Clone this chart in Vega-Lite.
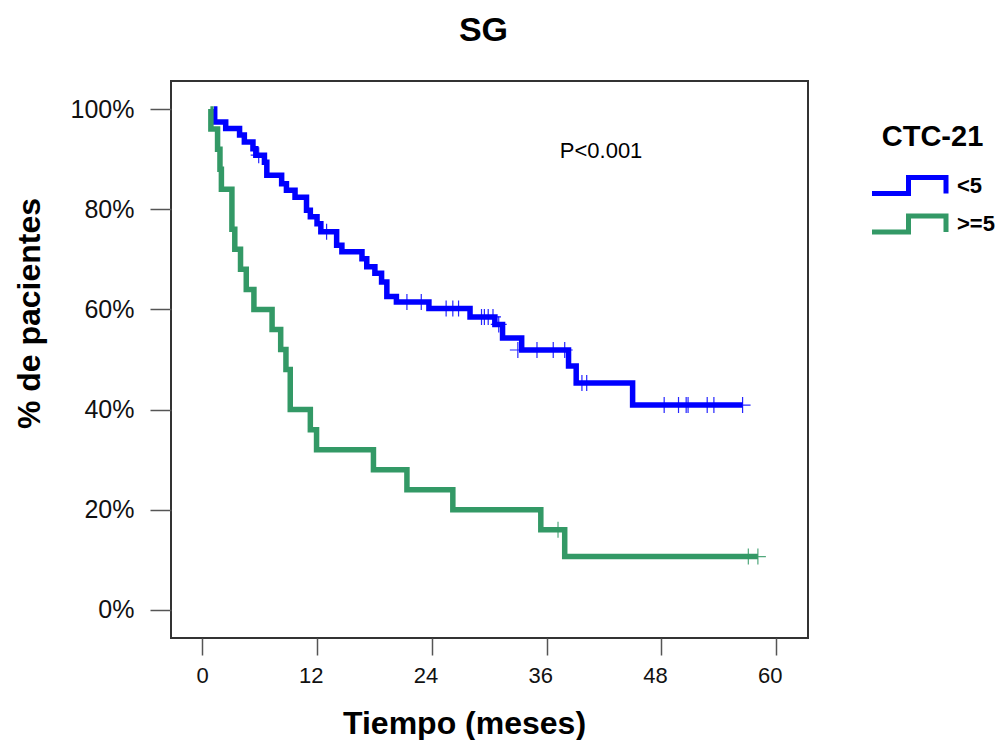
{
  "$schema": "https://vega.github.io/schema/vega-lite/v6.json",
  "width": 637,
  "height": 557,
  "autosize": "none",
  "padding": {"left": 171, "top": 81, "right": 194, "bottom": 102},
  "background": "white",
  "title": {"text": "SG", "fontSize": 34, "font": "Liberation Sans", "fontWeight": "bold", "color": "#000", "offset": 33, "dx": -6},
  "config": {
    "view": {"stroke": "#333", "strokeWidth": 2},
    "font": "Liberation Sans",
    "axis": {"grid": false, "domain": false, "tickColor": "#555", "tickWidth": 1.5, "labelFont": "Liberation Sans", "labelFontSize": 22, "labelColor": "#111", "titleFont": "Liberation Sans", "titleFontSize": 32, "titleFontWeight": "bold", "titleColor": "#000"}
  },
  "datasets": {
    "surv": [
      {"t": 1.2, "s": 100, "g": "<5"}, {"t": 1.3, "s": 97.4, "g": "<5"}, {"t": 2.45, "s": 96.1, "g": "<5"},
      {"t": 3.9, "s": 94.8, "g": "<5"}, {"t": 4.4, "s": 93.4, "g": "<5"}, {"t": 5.3, "s": 92.1, "g": "<5"},
      {"t": 5.6, "s": 90.8, "g": "<5"}, {"t": 6.5, "s": 89.4, "g": "<5"}, {"t": 6.75, "s": 86.8, "g": "<5"},
      {"t": 8.3, "s": 85.1, "g": "<5"}, {"t": 8.8, "s": 83.8, "g": "<5"}, {"t": 9.7, "s": 82.4, "g": "<5"},
      {"t": 10.9, "s": 79.8, "g": "<5"}, {"t": 11.3, "s": 78.5, "g": "<5"}, {"t": 12.0, "s": 77.1, "g": "<5"},
      {"t": 12.4, "s": 75.5, "g": "<5"}, {"t": 14.05, "s": 72.8, "g": "<5"}, {"t": 14.6, "s": 71.5, "g": "<5"},
      {"t": 16.7, "s": 70.1, "g": "<5"}, {"t": 17.2, "s": 68.5, "g": "<5"}, {"t": 18.05, "s": 67.2, "g": "<5"},
      {"t": 18.75, "s": 65.5, "g": "<5"}, {"t": 19.3, "s": 62.6, "g": "<5"}, {"t": 20.3, "s": 61.5, "g": "<5"},
      {"t": 23.7, "s": 60.2, "g": "<5"}, {"t": 28.0, "s": 58.5, "g": "<5"}, {"t": 30.6, "s": 57.0, "g": "<5"},
      {"t": 31.4, "s": 54.3, "g": "<5"}, {"t": 33.4, "s": 51.9, "g": "<5"}, {"t": 38.3, "s": 48.7, "g": "<5"},
      {"t": 39.1, "s": 45.3, "g": "<5"}, {"t": 45.0, "s": 40.9, "g": "<5"}, {"t": 56.5, "s": 40.9, "g": "<5"},
      {"t": 0.85, "s": 100, "g": ">=5"}, {"t": 0.9, "s": 96, "g": ">=5"}, {"t": 1.6, "s": 92, "g": ">=5"},
      {"t": 1.85, "s": 88, "g": ">=5"}, {"t": 2.0, "s": 84, "g": ">=5"}, {"t": 3.1, "s": 76, "g": ">=5"},
      {"t": 3.4, "s": 72, "g": ">=5"}, {"t": 4.0, "s": 68, "g": ">=5"}, {"t": 4.6, "s": 64, "g": ">=5"},
      {"t": 5.4, "s": 60, "g": ">=5"}, {"t": 7.3, "s": 56, "g": ">=5"}, {"t": 8.2, "s": 52, "g": ">=5"},
      {"t": 8.75, "s": 48, "g": ">=5"}, {"t": 9.2, "s": 40, "g": ">=5"}, {"t": 11.3, "s": 36, "g": ">=5"},
      {"t": 11.95, "s": 32, "g": ">=5"}, {"t": 17.9, "s": 28, "g": ">=5"}, {"t": 21.4, "s": 24, "g": ">=5"},
      {"t": 26.2, "s": 20, "g": ">=5"}, {"t": 35.4, "s": 16, "g": ">=5"}, {"t": 37.9, "s": 10.67, "g": ">=5"},
      {"t": 58.1, "s": 10.67, "g": ">=5"}
    ],
    "cens": [
      {"t": 5.9, "s": 90.8, "g": "<5"}, {"t": 13.0, "s": 75.5, "g": "<5"}, {"t": 21.4, "s": 61.5, "g": "<5"},
      {"t": 22.9, "s": 61.5, "g": "<5"}, {"t": 25.5, "s": 60.2, "g": "<5"}, {"t": 26.2, "s": 60.2, "g": "<5"},
      {"t": 26.8, "s": 60.2, "g": "<5"}, {"t": 29.2, "s": 58.5, "g": "<5"}, {"t": 29.5, "s": 58.5, "g": "<5"},
      {"t": 29.9, "s": 58.5, "g": "<5"}, {"t": 30.4, "s": 58.5, "g": "<5"}, {"t": 31.0, "s": 57.0, "g": "<5"},
      {"t": 33.0, "s": 51.9, "g": "<5"}, {"t": 35.0, "s": 51.9, "g": "<5"}, {"t": 36.7, "s": 51.9, "g": "<5"},
      {"t": 37.9, "s": 51.9, "g": "<5"}, {"t": 39.7, "s": 45.3, "g": "<5"}, {"t": 40.2, "s": 45.3, "g": "<5"},
      {"t": 48.3, "s": 40.9, "g": "<5"}, {"t": 49.8, "s": 40.9, "g": "<5"}, {"t": 50.6, "s": 40.9, "g": "<5"},
      {"t": 50.8, "s": 40.9, "g": "<5"}, {"t": 52.8, "s": 40.9, "g": "<5"}, {"t": 53.5, "s": 40.9, "g": "<5"},
      {"t": 56.5, "s": 40.9, "g": "<5"},
      {"t": 37.2, "s": 16, "g": ">=5"}, {"t": 57.1, "s": 10.67, "g": ">=5"}, {"t": 58.1, "s": 10.67, "g": ">=5"}
    ],
    "note": [{"t": 41.7, "s": 91.6, "label": "P<0.001"}]
  },
  "layer": [
    {
      "data": {"name": "surv"},
      "mark": {"type": "line", "interpolate": "step-after", "strokeWidth": 5.5, "strokeJoin": "miter"},
      "encoding": {
        "x": {"field": "t", "type": "quantitative", "scale": {"domain": [-3.27, 63.34], "nice": false, "zero": false},
              "axis": {"values": [0, 12, 24, 36, 48, 60], "tickSize": 17, "labelPadding": 10, "labelAlign": "right", "labelOffset": 6, "title": "Tiempo (meses)", "titlePadding": 22, "titleX": 293}},
        "y": {"field": "s", "type": "quantitative", "scale": {"domain": [-5.59, 105.6], "nice": false, "zero": false},
              "axis": {"values": [0, 20, 40, 60, 80, 100], "labelExpr": "datum.value + '%'", "labelFontSize": 25, "tickSize": 21, "labelPadding": 16, "title": "% de pacientes", "titlePadding": 24, "titleY": 232}},
        "color": {"field": "g", "type": "nominal", "scale": {"domain": ["<5", ">=5"], "range": ["#0000ff", "#339966"]},
                  "legend": {"orient": "none", "legendX": 698.5, "legendY": 42, "padding": 0, "title": "CTC-21", "titleFontSize": 29, "titleFontWeight": "bold", "titleColor": "#000", "titleAnchor": "middle", "titlePadding": 21,
                             "labelFontSize": 22, "labelFontWeight": "bold", "labelColor": "#000", "labelOffset": 62.5, "rowPadding": 1.5,
                             "symbolType": "M-1,0.8H2.65V-0.8H6.4V0.8", "symbolSize": 400, "symbolStrokeWidth": 5, "symbolFillColor": "transparent"}}
      }
    },
    {
      "data": {"name": "cens"},
      "mark": {"type": "point", "shape": "M0,-1V1M-1,0H1", "size": 256, "filled": false, "strokeWidth": 1.2, "opacity": 0.85},
      "encoding": {
        "x": {"field": "t", "type": "quantitative"},
        "y": {"field": "s", "type": "quantitative"},
        "color": {"field": "g", "type": "nominal", "legend": null}
      }
    },
    {
      "data": {"name": "note"},
      "mark": {"type": "text", "fontSize": 22, "font": "Liberation Sans", "color": "#000"},
      "encoding": {
        "x": {"field": "t", "type": "quantitative"},
        "y": {"field": "s", "type": "quantitative"},
        "text": {"field": "label"}
      }
    }
  ]
}
